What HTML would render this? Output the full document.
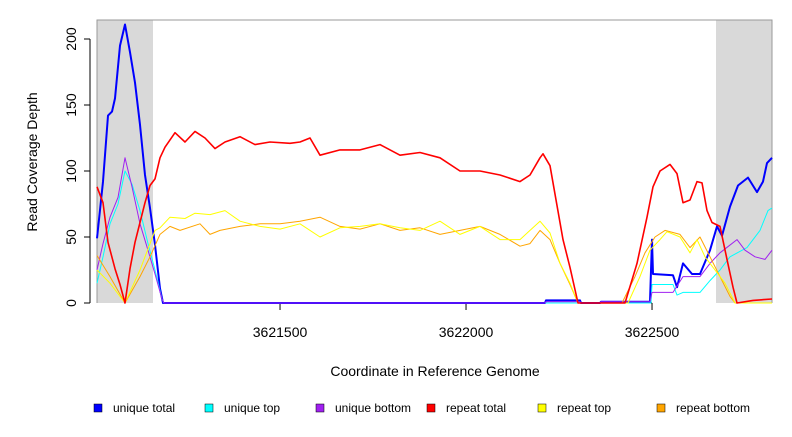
<!DOCTYPE html>
<html><head><meta charset="utf-8"><style>
body{margin:0;background:#fff;font-family:"Liberation Sans",sans-serif}
svg text{font-family:"Liberation Sans",sans-serif}
</style></head><body>
<svg id="chart" width="792" height="432">
<rect x="97" y="20" width="56" height="283" fill="#d9d9d9"/>
<rect x="716" y="20" width="56" height="283" fill="#d9d9d9"/>
<polyline points="97,303 97,20 772,20 772,303" fill="none" stroke="#999" stroke-width="1"/>
<g id="yaxis"></g>
<g id="xaxis"></g>
<g id="series"></g>
<text x="37" y="162" transform="rotate(-90 37 162)" text-anchor="middle" font-size="14">Read Coverage Depth</text>
<text x="435" y="376" text-anchor="middle" font-size="14">Coordinate in Reference Genome</text>
<g id="legend"></g>
</svg>
<script>
const yTicks=[0,50,100,150,200];
const xTicks=[3621500,3622000,3622500];
const seriesNames=["unique total","unique top","unique bottom","repeat total","repeat top","repeat bottom"];
const seriesColors=["#0000ff","#00ffff","#a020f0","#ff0000","#ffff00","#ffa500"];
const blueX=[97,103,108,112,115,120,125,130,135,140,145,150,155,160,163,545,546,580,581,600,601,650,652,653,673,677,683,692,700,710,717,722,730,738,748,757,763,767,772];
const blueV=[49,92,142,145,155,195,211,190,167,135,97,72,44,11,0,0,2,2,0,0,1,1,48,22,21,12,30,22,22,40,58,51,73,89,95,84,92,106,110];
const cyanX=[97,103,110,118,125,132,140,148,155,162,164,651,652,653,673,677,683,700,710,720,730,747,760,768,772];
const cyanV=[15,35,60,75,100,90,70,45,25,3,0,0,14,14,14,6,8,8,17,25,35,42,55,70,72];
const purpleX=[97,103,110,118,125,132,140,148,155,162,164,545,546,580,581,600,601,650,652,653,673,683,700,710,720,737,745,755,765,772];
const purpleV=[25,45,65,80,110,88,60,40,22,3,0,0,1,1,0,0,1,1,8,8,8,20,20,30,38,48,40,35,33,40];
const redX=[97,103,108,115,120,125,130,135,140,145,150,155,160,165,175,185,195,205,215,225,240,255,270,290,300,310,320,340,360,380,400,420,440,460,480,500,520,530,540,543,550,563,570,578,625,637,647,653,660,670,677,683,690,697,702,707,712,720,727,733,737,753,772];
const redV=[88,76,46,26,14,0,26,46,61,76,89,94,110,118,129,122,130,125,117,122,126,120,122,121,122,125,112,116,116,120,112,114,110,100,100,97,92,97,110,113,104,48,27,0,0,30,65,88,100,105,98,76,78,92,91,70,61,58,33,12,0,2,3];
const yellowX=[97,110,125,140,155,160,170,185,195,210,225,240,260,280,300,320,340,360,380,400,420,440,460,480,500,520,530,540,550,560,570,578,628,640,650,660,667,680,690,697,705,715,725,735,772];
const yellowV=[25,15,0,25,55,57,65,64,68,67,70,62,58,56,60,50,57,58,60,57,55,62,52,58,48,48,55,62,53,30,15,0,0,20,40,48,54,50,38,48,35,25,15,0,0];
const orangeX=[97,110,125,140,150,160,170,180,200,210,220,240,260,280,300,320,340,360,380,400,420,440,460,480,500,520,530,540,550,560,570,578,622,635,645,655,665,680,690,700,710,720,730,735,772];
const orangeV=[36,20,0,20,35,52,58,55,60,52,55,58,60,60,62,65,58,56,60,55,57,52,55,58,52,43,45,55,48,30,14,0,0,20,38,50,55,52,42,50,35,20,5,0,0];

const ns="http://www.w3.org/2000/svg";
const x0=3621008, pxPerBp=186/500;
const xs=c=>97+(c-x0)*pxPerBp;
const ys=v=>303-v*66/50;
const pxToCoord=p=>x0+(p-97)/pxPerBp;
function mk(t,a,parent){const e=document.createElementNS(ns,t);for(const k in a)e.setAttribute(k,a[k]);parent.appendChild(e);return e;}
const ya=document.getElementById('yaxis');
let l=mk('line',{x1:90,x2:90,y1:ys(0),y2:ys(200),stroke:'#000'},ya);


yTicks.forEach(v=>{
 const t=mk('line',{x1:84,x2:90,y1:ys(v),y2:ys(v),stroke:'#000'},ya);
 
 
 const tx=mk('text',{x:76,y:ys(v),'text-anchor':'middle','font-size':14,transform:`rotate(-90 76 ${ys(v)})`},ya);
 tx.textContent=v;
 
 
});
const xa=document.getElementById('xaxis');
let xl=mk('line',{x1:xs(xTicks[0]),x2:xs(xTicks[xTicks.length-1]),y1:303,y2:303,stroke:'#000'},xa);


xTicks.forEach(c=>{
 const t=mk('line',{x1:xs(c),x2:xs(c),y1:303,y2:310,stroke:'#000'},xa);
 
 
 const tx=mk('text',{x:xs(c),y:337,'text-anchor':'middle','font-size':14},xa);
 tx.textContent=c;
 
 
});
const sg=document.getElementById('series');
const data=[[blueX,blueV,2,'unique-total-line'],[cyanX,cyanV,1,'unique-top-line'],[purpleX,purpleV,1,'unique-bottom-line'],[orangeX,orangeV,1,'repeat-bottom-line'],[yellowX,yellowV,1,'repeat-top-line'],[redX,redV,1.6,'repeat-total-line']];
const colorIdx=[0,1,2,5,4,3];
data.forEach((d,i)=>{
 const pts=d[0].map((p,j)=>xs(pxToCoord(p)).toFixed(1)+','+ys(d[1][j]).toFixed(1)).join(' ');
 const pl=mk('polyline',{points:pts,fill:'none',stroke:seriesColors[colorIdx[i]],'stroke-width':d[2],'stroke-linejoin':'round'},sg);
 
 
});
const lg=document.getElementById('legend');
const lx=[94,205,316,427,538,657];
seriesNames.forEach((n,i)=>{
 const r=mk('rect',{x:lx[i],y:404,width:8,height:8,fill:seriesColors[i],stroke:'#000','stroke-width':0.5},lg);
 
 
 const t=mk('text',{x:lx[i]+19,y:412,'font-size':12},lg);
 t.textContent=n;
 
 
});
</script>
</body></html>
